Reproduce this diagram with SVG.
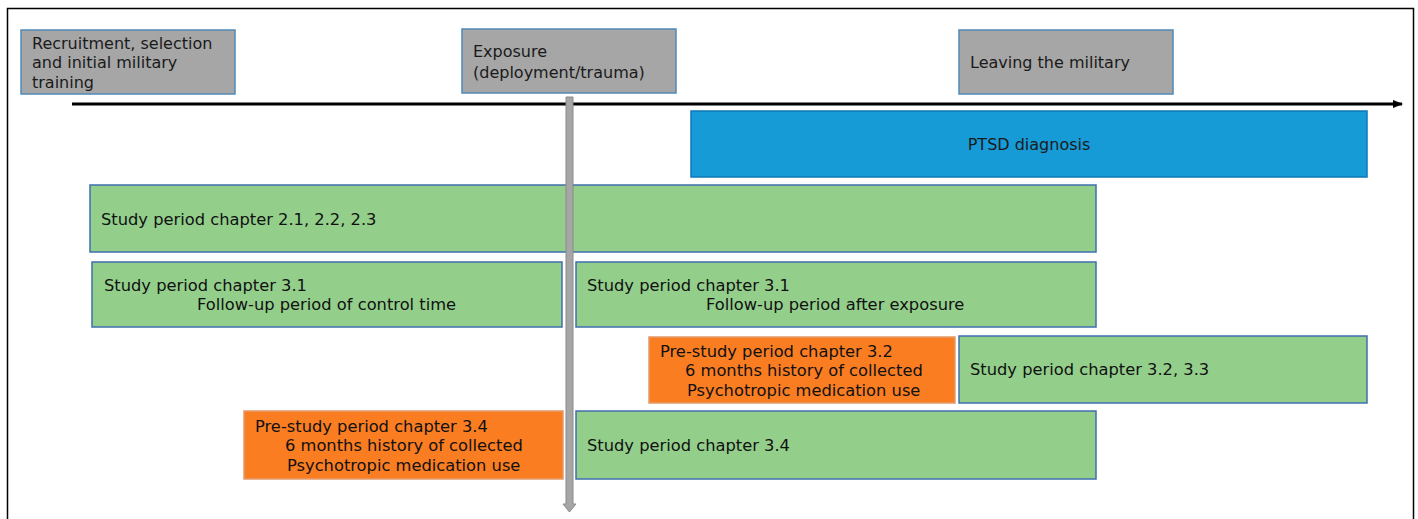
<svg xmlns="http://www.w3.org/2000/svg" width="1418" height="519" viewBox="0 0 1418 519">
<defs>
<style>
.gray{fill:#a6a6a6;stroke:#4f8ab8;stroke-width:1.5}
.green{fill:#93cf8b;stroke:#3f6fae;stroke-width:1.5}
.orange{fill:#fa7d22;stroke:#e39a6c;stroke-width:1.5}
.blue{fill:#179bd7;stroke:#0d78b8;stroke-width:1.5}
.t16{font-family:"DejaVu Sans",Verdana,sans-serif;font-size:16px;fill:#1a1a1a}
.t{font-family:"DejaVu Sans",Verdana,sans-serif;font-size:16.3px;fill:#111}
</style>
<marker id="ah" markerWidth="10" markerHeight="10" refX="9" refY="5" orient="auto" markerUnits="userSpaceOnUse">
<path d="M0,1 L10,5 L0,9 Z" fill="#000"/>
</marker>
</defs>
<rect width="1418" height="519" fill="#fff"/>
<rect x="7.5" y="8.5" width="1406" height="530" fill="none" stroke="#000" stroke-width="1.5"/>

<g id="recruitment">
<rect class="gray" x="21" y="30" width="214" height="64"/>
<text class="t16" x="32" y="49">Recruitment, selection</text>
<text class="t16" x="32" y="68">and initial military</text>
<text class="t16" x="32" y="88">training</text>
</g>
<g id="exposure">
<rect class="gray" x="462" y="29" width="214" height="64"/>
<text class="t16" x="473" y="57">Exposure</text>
<text class="t16" x="473" y="78">(deployment/trauma)</text>
</g>
<g id="leaving">
<rect class="gray" x="959" y="30" width="214" height="64"/>
<text class="t16" x="970" y="68">Leaving the military</text>
</g>

<g id="connectors">
<line x1="72" y1="104" x2="1402" y2="104" stroke="#000" stroke-width="3" marker-end="url(#ah)"/>
</g>

<g id="ptsd">
<rect class="blue" x="691" y="111" width="676" height="66"/>
<text class="t16" x="1029" y="150" text-anchor="middle">PTSD diagnosis</text>
</g>
<g id="study-2">
<rect class="green" x="90" y="185" width="1006" height="67"/>
<text class="t" x="101" y="225">Study period chapter 2.1, 2.2, 2.3</text>
</g>
<g id="study-31-control">
<rect class="green" x="92" y="262" width="470" height="65"/>
<text class="t" x="104" y="291">Study period chapter 3.1</text>
<text class="t" x="197" y="310">Follow-up period of control time</text>
</g>
<g id="study-31-exposure">
<rect class="green" x="576" y="262" width="520" height="65"/>
<text class="t" x="587" y="291">Study period chapter 3.1</text>
<text class="t" x="706" y="310">Follow-up period after exposure</text>
</g>
<g id="prestudy-32">
<rect class="orange" x="649" y="337" width="306" height="66"/>
<text class="t" x="660" y="357">Pre-study period chapter 3.2</text>
<text class="t" x="685" y="376">6 months history of collected</text>
<text class="t" x="687" y="396">Psychotropic medication use</text>
</g>
<g id="study-32-33">
<rect class="green" x="959" y="336" width="408" height="67"/>
<text class="t" x="970" y="375">Study period chapter 3.2, 3.3</text>
</g>
<g id="prestudy-34">
<rect class="orange" x="244" y="411" width="319" height="68"/>
<text class="t" x="255" y="432">Pre-study period chapter 3.4</text>
<text class="t" x="285" y="451">6 months history of collected</text>
<text class="t" x="287" y="471">Psychotropic medication use</text>
</g>
<g id="study-34">
<rect class="green" x="576" y="411" width="520" height="68"/>
<text class="t" x="587" y="451">Study period chapter 3.4</text>
</g>

<g id="exposure-line">
<path d="M566,97 H573 V504 H576 L569.5,512 L563,504 H566 Z" fill="#a6a6a6" stroke="#8a8a8a" stroke-width="1"/>
</g>
</svg>
